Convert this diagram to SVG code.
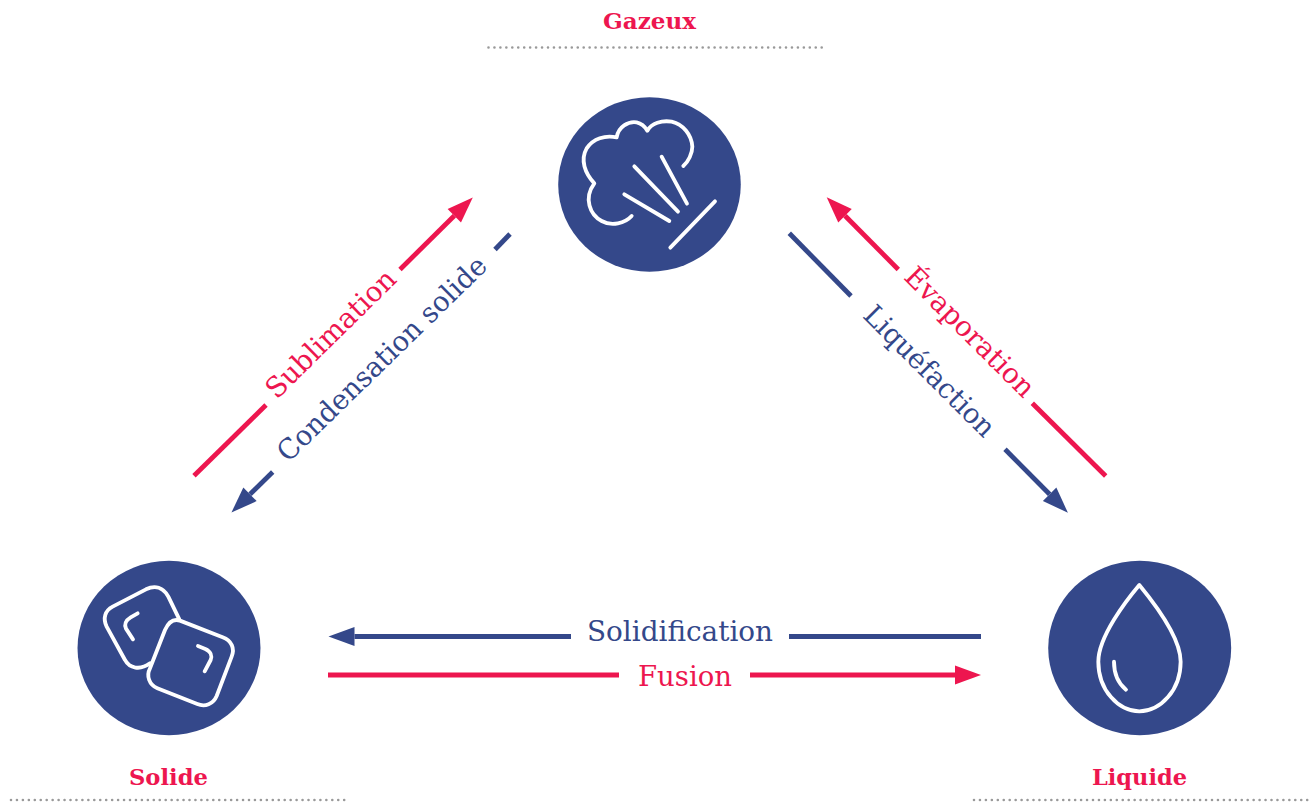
<svg xmlns="http://www.w3.org/2000/svg" width="1313" height="802" viewBox="0 0 1313 802">
<style>
.bg{fill:#fff}
.disc{fill:#34488a}
.ico{fill:none;stroke:#fff;stroke-width:11.5;stroke-linecap:round;stroke-linejoin:round}
.dots{fill:none;stroke:#999;stroke-width:2.6;stroke-linecap:round;stroke-dasharray:0 5.95}
.title{font-family:"DejaVu Serif","Liberation Serif",serif;font-weight:700;font-size:23px;fill:#ed164f}
.lbl{font-family:"DejaVu Serif","Liberation Serif",serif;font-size:28px}
.r{fill:#ed164f}
.b{fill:#34488a}
.lr{fill:none;stroke:#ed164f;stroke-width:4.8}
.lb{fill:none;stroke:#34488a;stroke-width:4.8}
.hr{marker-end:url(#hr)}
.hb{marker-end:url(#hb)}
</style>
<defs>
<marker id="hr" markerUnits="userSpaceOnUse" markerWidth="28" markerHeight="22" refX="0" refY="10" orient="auto" overflow="visible"><path d="M0 0.5L26 10L0 19.5Z" fill="#ed164f"/></marker>
<marker id="hb" markerUnits="userSpaceOnUse" markerWidth="28" markerHeight="22" refX="0" refY="10" orient="auto" overflow="visible"><path d="M0 0.5L26 10L0 19.5Z" fill="#34488a"/></marker>
</defs>
<rect class="bg" width="1313" height="802"/>
<g id="connectors">
<path class="lr" d="M194 475.7L266 405"/>
<path class="lr hr" d="M400 269.5L454.3 215.7"/>
<path class="lb" d="M510 234L495 249.5"/>
<path class="lb hb" d="M272.7 472L250 494.3"/>
<path class="lr" d="M1032.3 403.3L1105.7 476"/>
<path class="lr hr" d="M898.3 269.5L845 215.7"/>
<path class="lb" d="M789.3 233.3L851 296"/>
<path class="lb hb" d="M1005 449.3L1049.6 494.3"/>
<path class="lb hb" d="M571 636.5H354.5"/>
<path class="lb" d="M789 636.5H981"/>
<path class="lr" d="M328 675H619"/>
<path class="lr hr" d="M750 675H955"/>
<text class="lbl r" transform="translate(276.7 400) rotate(-44.5)" textLength="170" lengthAdjust="spacingAndGlyphs">Sublimation</text>
<text class="lbl b" transform="translate(288.3 463.3) rotate(-44.3)" textLength="280" lengthAdjust="spacingAndGlyphs">Condensation solide</text>
<text class="lbl r" transform="translate(902.7 278.3) rotate(45)" textLength="171" lengthAdjust="spacingAndGlyphs">Évaporation</text>
<text class="lbl b" transform="translate(861.7 316.7) rotate(45)" textLength="173" lengthAdjust="spacingAndGlyphs">Liquéfaction</text>
<text class="lbl b" x="587" y="641" textLength="186" lengthAdjust="spacingAndGlyphs">Solidification</text>
<text class="lbl r" x="638" y="686" textLength="94" lengthAdjust="spacingAndGlyphs">Fusion</text>
</g>
<g id="gazeux">
<text class="title" x="603" y="29" textLength="93" lengthAdjust="spacingAndGlyphs">Gazeux</text>
<path class="dots" d="M488.5 47.5H822"/>
<ellipse class="disc" cx="649.5" cy="184.5" rx="91.3" ry="87.3"/>
<g transform="translate(540 85) scale(.3333)">
<path class="ico" d="M275 393C255 415 215 425 185 408C150 390 130 340 163 295C135 265 120 225 140 190C160 160 195 150 230 157C235 125 265 108 290 112C305 115 315 125 322 137C335 115 365 105 395 110C430 118 455 150 457 185C457 205 445 230 430 243"/>
<path class="ico" d="M283 244L414 380M365 215L441 356M253 328L388 408M525 349L391 488"/>
</g>
</g>
<g id="solide">
<text class="title" x="129" y="785" textLength="79" lengthAdjust="spacingAndGlyphs">Solide</text>
<path class="dots" d="M11 800H346"/>
<ellipse class="disc" cx="169" cy="648" rx="91.5" ry="87.2"/>
<g transform="translate(60 550) scale(.3333)">
<path class="ico" d="M360 212L488 262C515 272 525 295 515 320L470 438C460 462 435 472 412 462L292 415C268 405 258 378 270 355L315 240C325 218 340 205 360 212Z"/>
<path class="ico" d="M358 208L325 140C310 112 285 105 258 118L158 170C135 182 128 205 140 230L195 330C208 355 240 362 270 340"/>
<path class="ico" d="M233 190L212 202C197 211 192 224 198 236L219 268M414 288L436 297C452 304 457 318 452 330L434 364"/>
</g>
</g>
<g id="liquide">
<text class="title" x="1092" y="785" textLength="95" lengthAdjust="spacingAndGlyphs">Liquide</text>
<path class="dots" d="M974 800H1312"/>
<ellipse class="disc" cx="1139.7" cy="648" rx="91.5" ry="87.2"/>
<g transform="translate(1030 550) scale(.3333)">
<path class="ico" d="M328 105C290 150 205 260 205 335C205 420 265 484 328 484C392 484 452 420 452 335C452 260 365 150 328 105Z"/>
<path class="ico" d="M252 335C252 370 265 400 288 419"/>
</g>
</g>
</svg>
